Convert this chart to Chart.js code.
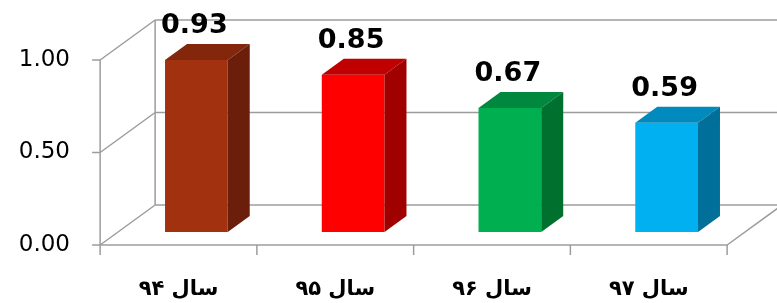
<!DOCTYPE html>
<html>
<head>
<meta charset="utf-8">
<script src="https://cdn.jsdelivr.net/npm/chart.js@4"></script>
<style>
html, body { margin: 0; padding: 0; background: #fff; }
#wrap { width: 777px; height: 303px; }
</style>
</head>
<body>
<div id="wrap"><canvas id="chart"></canvas></div>
<script>
const years = ['سال ۹۴', 'سال ۹۵', 'سال ۹۶', 'سال ۹۷'];
const values = [0.93, 0.85, 0.67, 0.59];
const yTicks = [0, 0.5, 1];

const frontColors = ['#A2310F', '#FF0000', '#00B050', '#00B0F0'];
const topColors = ['#82270C', '#C00000', '#00883E', '#008ABD'];
const sideColors = ['#6B1F0A', '#A00000', '#00702F', '#00709A'];

// 3d box: full depth of the floor, where the bars stand in it, and bar depth
const DEPTH = { x: 55, y: -40 };
const BAR_PLANE = 0.325;
const BAR_DEPTH = { x: 22, y: -16 };
const gridColor = '#9C9C9C';

const fx = -DEPTH.x * BAR_PLANE, fy = -DEPTH.y * BAR_PLANE;
const bx = DEPTH.x * (1 - BAR_PLANE), by = DEPTH.y * (1 - BAR_PLANE);

function line(ctx, x1, y1, x2, y2) {
    ctx.beginPath();
    ctx.moveTo(x1, y1);
    ctx.lineTo(x2, y2);
    ctx.stroke();
}

const box3d = {
    id: 'box3d',
    beforeDatasetsDraw(chart) {
        const ctx = chart.ctx;
        const xs = chart.scales.x, ys = chart.scales.y;
        const L = chart.chartArea.left, R = chart.chartArea.right;
        const y0 = ys.getPixelForValue(0), y1 = ys.getPixelForValue(1);
        ctx.save();
        ctx.strokeStyle = gridColor;
        ctx.lineWidth = 1.5;
        yTicks.forEach(v => {
            const py = ys.getPixelForValue(v);
            line(ctx, L + fx, py + fy, L + bx, py + by);
            line(ctx, L + bx, py + by, R + bx, py + by);
            line(ctx, L + fx - 8, py + fy, L + fx, py + fy);
        });
        // floor front edge and right edge
        line(ctx, L + fx, y0 + fy, R + fx, y0 + fy);
        line(ctx, R + fx, y0 + fy, R + bx, y0 + by);
        // walls vertical edges
        line(ctx, L + bx, y0 + by, L + bx, y1 + by);
        line(ctx, L + fx, y0 + fy, L + fx, y1 + fy);
        // category tick marks
        const n = years.length;
        for (let i = 0; i <= n; i++) {
            const px = xs.left + i * (xs.width / n) + fx;
            line(ctx, px, y0 + fy, px, y0 + fy + 10);
        }
        ctx.restore();
    },
    afterDatasetsDraw(chart) {
        const ctx = chart.ctx;
        const meta = chart.getDatasetMeta(0);
        ctx.save();
        meta.data.forEach((bar, i) => {
            const p = bar.getProps(['x', 'y', 'base', 'width'], true);
            const l = p.x - p.width / 2, r = p.x + p.width / 2;
            ctx.fillStyle = topColors[i];
            ctx.beginPath();
            ctx.moveTo(l, p.y);
            ctx.lineTo(r, p.y);
            ctx.lineTo(r + BAR_DEPTH.x, p.y + BAR_DEPTH.y);
            ctx.lineTo(l + BAR_DEPTH.x, p.y + BAR_DEPTH.y);
            ctx.closePath();
            ctx.fill();
            ctx.fillStyle = sideColors[i];
            ctx.beginPath();
            ctx.moveTo(r, p.y);
            ctx.lineTo(r + BAR_DEPTH.x, p.y + BAR_DEPTH.y);
            ctx.lineTo(r + BAR_DEPTH.x, p.base + BAR_DEPTH.y);
            ctx.lineTo(r, p.base);
            ctx.closePath();
            ctx.fill();
            ctx.fillStyle = '#000';
            ctx.font = '600 27px "DejaVu Sans"';
            ctx.textAlign = 'center';
            ctx.textBaseline = 'middle';
            ctx.fillText(values[i].toFixed(2), p.x - 2, p.y - 34);
        });
        ctx.restore();
    }
};

new Chart(document.getElementById('chart'), {
    type: 'bar',
    data: {
        labels: years,
        datasets: [{
            data: values,
            backgroundColor: frontColors,
            borderWidth: 0,
            barPercentage: 0.4,
            categoryPercentage: 1
        }]
    },
    options: {
        responsive: true,
        maintainAspectRatio: false,
        animation: false,
        layout: { padding: { top: 47, right: 32, bottom: 0, left: 0 } },
        plugins: { legend: { display: false }, tooltip: { enabled: false } },
        scales: {
            x: {
                offset: true,
                grid: { display: false, drawTicks: false },
                border: { display: false },
                afterFit: s => { s.height = 71; s.paddingLeft = 0; s.paddingRight = 0; },
                ticks: {
                    color: '#000',
                    font: { family: 'DejaVu Sans', size: 21, weight: 'bold' },
                    labelOffset: fx,
                    padding: 45,
                    maxRotation: 0
                }
            },
            y: {
                min: 0,
                max: 1,
                grid: { display: false, drawTicks: false },
                border: { display: false },
                afterFit: s => { s.width = 118; s.paddingTop = 0; s.paddingBottom = 0; },
                afterBuildTicks: s => { s.ticks = yTicks.map(v => ({ value: v })); },
                ticks: {
                    color: '#000',
                    font: { family: 'DejaVu Sans', size: 23 },
                    labelOffset: fy,
                    padding: 48,
                    callback: v => v.toFixed(2)
                }
            }
        }
    },
    plugins: [box3d]
});
</script>
</body>
</html>
